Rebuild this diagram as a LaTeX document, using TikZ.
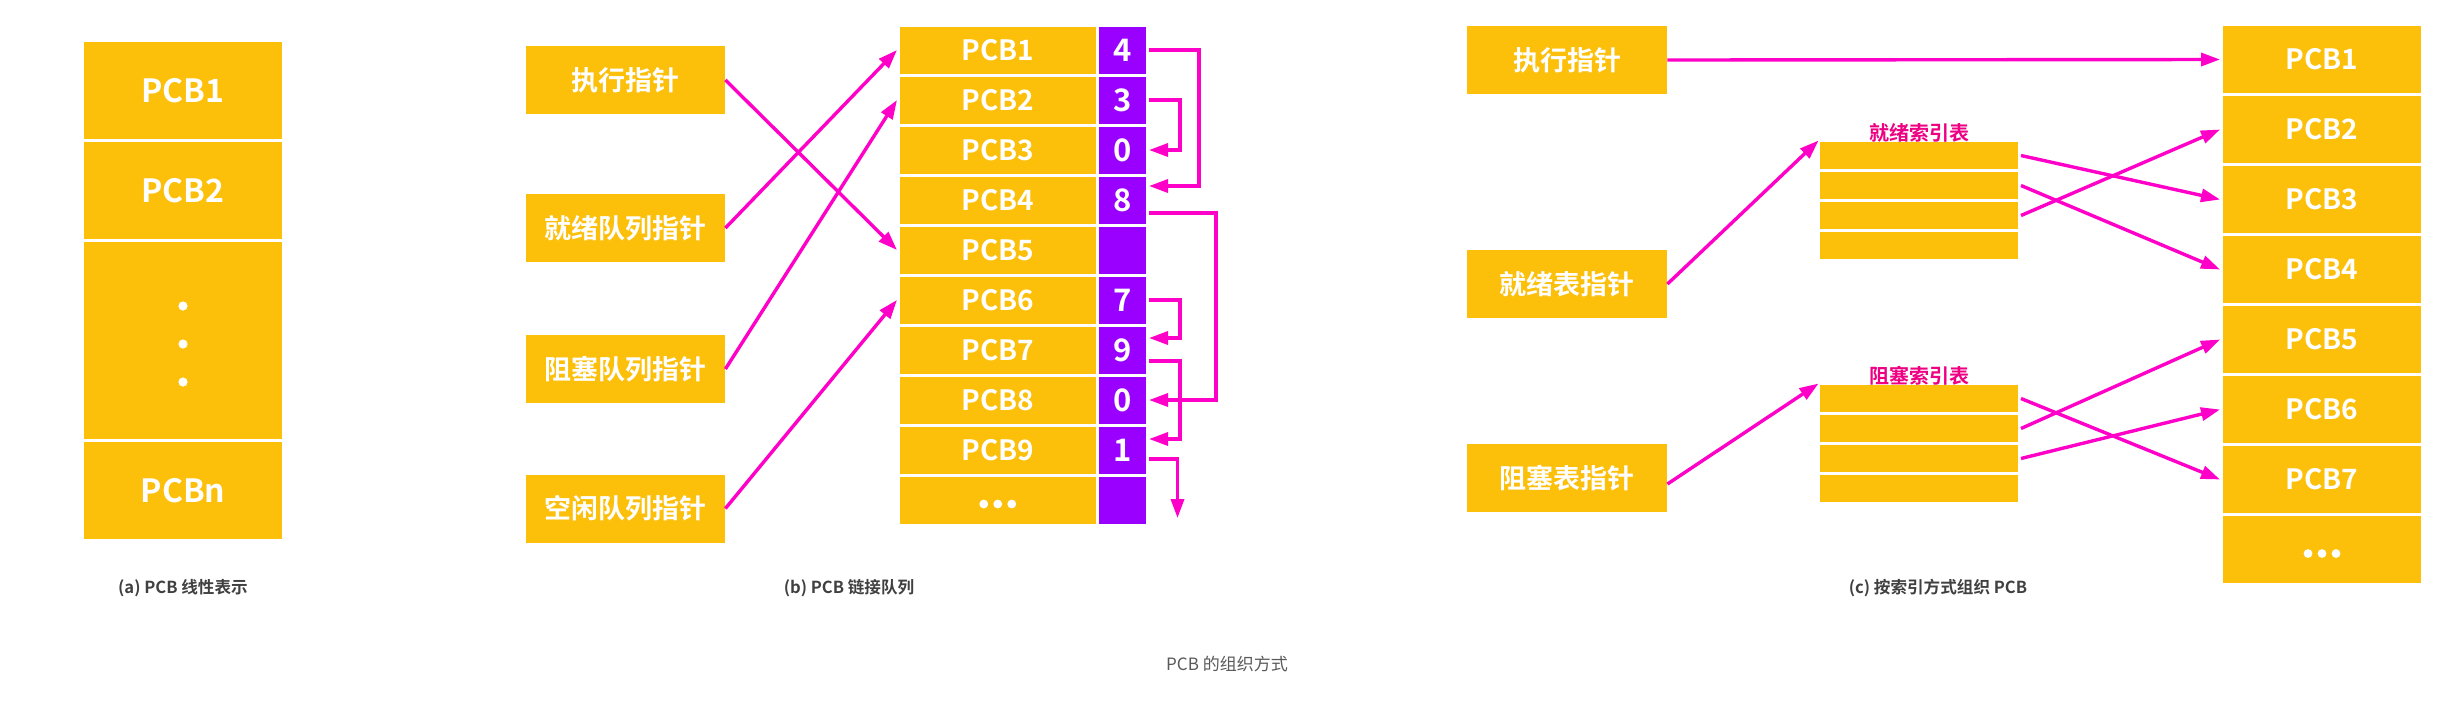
\documentclass[tikz,border=0pt]{standalone}
\usepackage{fontspec}
\setmainfont{Noto Sans CJK SC}[BoldFont={Noto Sans CJK SC Bold}]
\usetikzlibrary{arrows.meta,calc}
\definecolor{pcbyellow}{HTML}{FCBF0A}
\definecolor{pcbpurple}{HTML}{9900FF}
\definecolor{linkmag}{HTML}{FF00C8}
\definecolor{labmag}{HTML}{EE0082}
\definecolor{capdark}{HTML}{404040}
\definecolor{capgray}{HTML}{595959}
\newcommand\fa{\bfseries\fontsize{16}{16}\selectfont}
\newcommand\fb{\bfseries\fontsize{14}{14}\selectfont}
\newcommand\fnum{\bfseries\fontsize{15.5}{15.5}\selectfont}
\newcommand\fptr{\bfseries\fontsize{13.5}{13.5}\selectfont}
\begin{document}
\begin{tikzpicture}[x=0.5pt,y=-0.5pt,
  cell/.style={fill=pcbyellow, draw=white, line width=1.5pt, inner sep=0pt, text=white},
  vcell/.style={fill=pcbpurple, draw=white, line width=1.5pt, inner sep=0pt, text=white, font=\fnum,
    minimum width=25.25pt, minimum height=25pt},
  ptr/.style={fill=pcbyellow, inner sep=0pt, text=white, font=\fptr, minimum height=34pt},
  link/.style={draw=linkmag, line width=1.7pt, -{Triangle[length=9.5pt,width=6.5pt]}},
  captext/.style={inner sep=0pt, text=capdark, font=\bfseries\fontsize{8.3}{8.3}\selectfont},
  tlabel/.style={inner sep=0pt, text=labmag, font=\bfseries\fontsize{10}{10}\selectfont}]
\useasboundingbox (0,0) rectangle (2455,703);

% ---------------- (a) ----------------
\node[cell, font=\fa, minimum width=100.5pt, minimum height=50pt] (a1) at (183,90.5) {PCB1};
\node[cell, font=\fa, minimum width=100.5pt, minimum height=50pt] (a2) at (183,190.5) {PCB2};
\node[cell, minimum width=100.5pt, minimum height=100pt] (a3) at (183,340.5) {};
\node[cell, font=\fa, minimum width=100.5pt, minimum height=50pt] (a4) at (183,490.5) {PCBn};
\foreach \yy in {306,344,382} \fill[white] (183,\yy) circle (4.6);
\node[captext] (capa) at (183,588) {(a) PCB 线性表示};

% ---------------- (b) ----------------
\node[ptr, minimum width=99.5pt] (p1) at (625.5,80) {执行指针};
\node[ptr, minimum width=99.5pt] (p2) at (625.5,228) {就绪队列指针};
\node[ptr, minimum width=99.5pt] (p3) at (625.5,369) {阻塞队列指针};
\node[ptr, minimum width=99.5pt] (p4) at (625.5,508.5) {空闲队列指针};

\foreach \i/\t/\v in {1/PCB1/4,2/PCB2/3,3/PCB3/0,4/PCB4/8,5/PCB5/,6/PCB6/7,7/PCB7/9,8/PCB8/0,9/PCB9/1,10//}{
  \node[cell, font=\fb, minimum width=99.25pt, minimum height=25pt] (r\i) at (997.75,50*\i) {\t};
  \node[vcell] (v\i) at (1122.25,50*\i) {\v};
}
\foreach \dx in {-14,0,14} \fill[white] ($(r10)+(\dx,4)$) circle (4.4);

\draw[link] (p1.east) -- (r5.west);
\draw[link] (p2.east) -- (r1.west);
\draw[link] (p3.east) -- (r2.west);
\draw[link] (p4.east) -- (r6.west);

\coordinate (end9) at (1177.5,518);
\draw[link] (v1.east) -- ++(50,0) |- ($(v4.east)+(0,-14)$);
\draw[link] (v2.east) -- ++(31,0) |- (v3.east);
\draw[link] ($(v4.east)+(0,13)$) -- ++(67,0) |- (v8.east);
\draw[link] (v6.east) -- ++(31,0) |- ($(v7.east)+(0,-12)$);
\draw[link] ($(v7.east)+(0,11)$) -- ++(31,0) |- ($(v9.east)+(0,-11)$);
\draw[link] ($(v9.east)+(0,9)$) -| (end9);
\node[captext] (capb) at (849,588) {(b) PCB 链接队列};

% ---------------- (c) ----------------
\node[ptr, minimum width=100pt] (q1) at (1567,60) {执行指针};
\node[ptr, minimum width=100pt] (q2) at (1567,284) {就绪表指针};
\node[ptr, minimum width=100pt] (q3) at (1567,478) {阻塞表指针};

\foreach \i/\t in {1/PCB1,2/PCB2,3/PCB3,4/PCB4,5/PCB5,6/PCB6,7/PCB7,8/}{
  \node[cell, font=\fb, minimum width=100.5pt, minimum height=35pt] (c\i) at (2322,{59.5+70*(\i-1)}) {\t};
}
\foreach \dx in {-14,0,14} \fill[white] ($(c8)+(\dx,4)$) circle (4.4);

\foreach \i in {1,2,3,4}{
  \node[cell, minimum width=100.5pt, minimum height=15pt] (ri\i) at (1919,{155.5+30*(\i-1)}) {};
  \node[cell, minimum width=100.5pt, minimum height=15pt] (bi\i) at (1919,{398.5+30*(\i-1)}) {};
}
\node[tlabel, anchor=south] (rlab) at (1919,143) {就绪索引表};
\node[tlabel, anchor=south] (blab) at (1919,386) {阻塞索引表};

\draw[link] (q1.east) -- (c1.west);
\draw[link] (q2.east) -- ([shift={(1.5,1.5)}]ri1.north west);
\draw[link] ($(q3.east)+(0,6)$) -- ([shift={(1.5,1.5)}]bi1.north west);
\draw[link] (ri1.east) -- (c3.west);
\draw[link] (ri2.east) -- (c4.west);
\draw[link] (ri3.east) -- (c2.west);
\draw[link] (bi1.east) -- (c7.west);
\draw[link] (bi2.east) -- (c5.west);
\draw[link] (bi3.east) -- (c6.west);
\node[captext] (capc) at (1938,588) {(c) 按索引方式组织 PCB};

% ---------------- title ----------------
\node[inner sep=0pt, text=capgray, font=\fontsize{8.5}{8.5}\selectfont] (title) at (1227,664) {PCB 的组织方式};
\end{tikzpicture}
\end{document}
